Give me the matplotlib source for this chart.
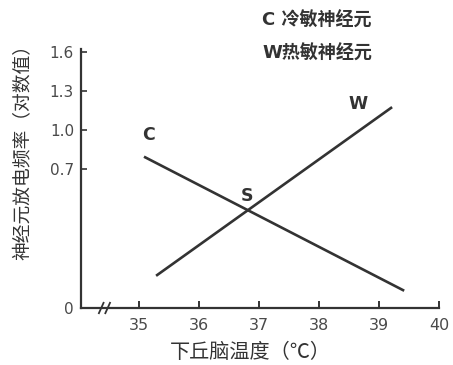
import numpy as np
import matplotlib
matplotlib.use('Agg')
import matplotlib.pyplot as plt

plt.rcParams['font.family'] = ['DejaVu Sans', 'Noto Sans CJK SC']

# data
temp_c = [35.1, 39.4]      # cold-sensitive neuron line ends
rate_c = [0.79, 0.09]
temp_w = [35.3, 39.2]      # warm-sensitive neuron line ends
rate_w = [0.166, 1.17]
s_point = (36.8, 0.51)
xticks = [35, 36, 37, 38, 39, 40]
yticks = [0, 0.7, 1.0, 1.3, 1.6]
ytick_labels = ['0', '0.7', '1.0', '1.3', '1.6']

# piecewise axis: 0 -> 0.7 compressed differently than 0.7 -> 1.6
v_pts = [0, 0.7, 1.6, 3.0]
p_pts = [0, 139, 256, 438]
def fwd(v):
    return np.interp(v, v_pts, p_pts)
def inv(p):
    return np.interp(p, p_pts, v_pts)

ink = '#333333'
fig = plt.figure(figsize=(4.53, 3.65), dpi=100)
ax = fig.add_axes([81/453, (365-308)/365, (439-81)/453, (308-49)/365])
ax.set_yscale('function', functions=(fwd, inv))

ax.plot(temp_c, rate_c, color=ink, lw=1.9)
ax.plot(temp_w, rate_w, color=ink, lw=1.9)

ax.set_xlim(34.03, 40.0)
ax.set_ylim(0, inv(259))

for s in ['top', 'right']:
    ax.spines[s].set_visible(False)
for s in ['left', 'bottom']:
    ax.spines[s].set_color(ink)
    ax.spines[s].set_linewidth(1.6)

ax.set_xticks(xticks)
ax.set_yticks(yticks)
ax.set_yticklabels(ytick_labels)
ax.tick_params(axis='x', direction='in', length=5, width=1.4, color=ink,
               labelsize=11.5, labelcolor='#4a4a4a', pad=7)
ax.tick_params(axis='y', direction='in', length=4, width=1.2, color=ink,
               labelsize=11, labelcolor='#4a4a4a', pad=5)
ax.yaxis.get_major_ticks()[0].tick1line.set_visible(False)

# axis break marks
for dx in (0.0, 0.018):
    ax.plot([0.05 + dx, 0.063 + dx], [-0.02, 0.02], transform=ax.transAxes,
            color=ink, lw=1.3, clip_on=False)

ax.set_xlabel('下丘脑温度（℃）', family=['Noto Sans CJK SC'], fontsize=14.5,
              color='#333333')
ax.xaxis.set_label_coords((250-81)/358, (308-352)/259)
ax.xaxis.label.set_va('center')
ax.set_ylabel('神经元放电频率（对数值）', family=['Noto Sans CJK SC'], fontsize=13.5,
              color='#333333')
ax.yaxis.set_label_coords((23-81)/358, (308-148)/259)
ax.yaxis.label.set_va('center')

ax.text(temp_c[0] + 0.05, rate_c[0] + 0.13, 'C', fontsize=12.5, fontweight='bold',
        color=ink, ha='center')
ax.text(temp_w[1] - 0.55, rate_w[1] - 0.01, 'W', fontsize=12.5, fontweight='bold',
        color=ink, ha='center')
ax.text(s_point[0], s_point[1] + 0.03, 'S', fontsize=12.5, fontweight='bold',
        color=ink, ha='center')

fig.text(262/453, 1 - 21/365, 'C 冷敏神经元', fontsize=13, fontweight='bold',
         color=ink, va='center', family=['DejaVu Sans', 'Noto Sans CJK SC'])
fig.text(262/453, 1 - 54/365, 'W热敏神经元', fontsize=13, fontweight='bold',
         color=ink, va='center', family=['DejaVu Sans', 'Noto Sans CJK SC'])

fig.savefig('out.png', dpi=100)
